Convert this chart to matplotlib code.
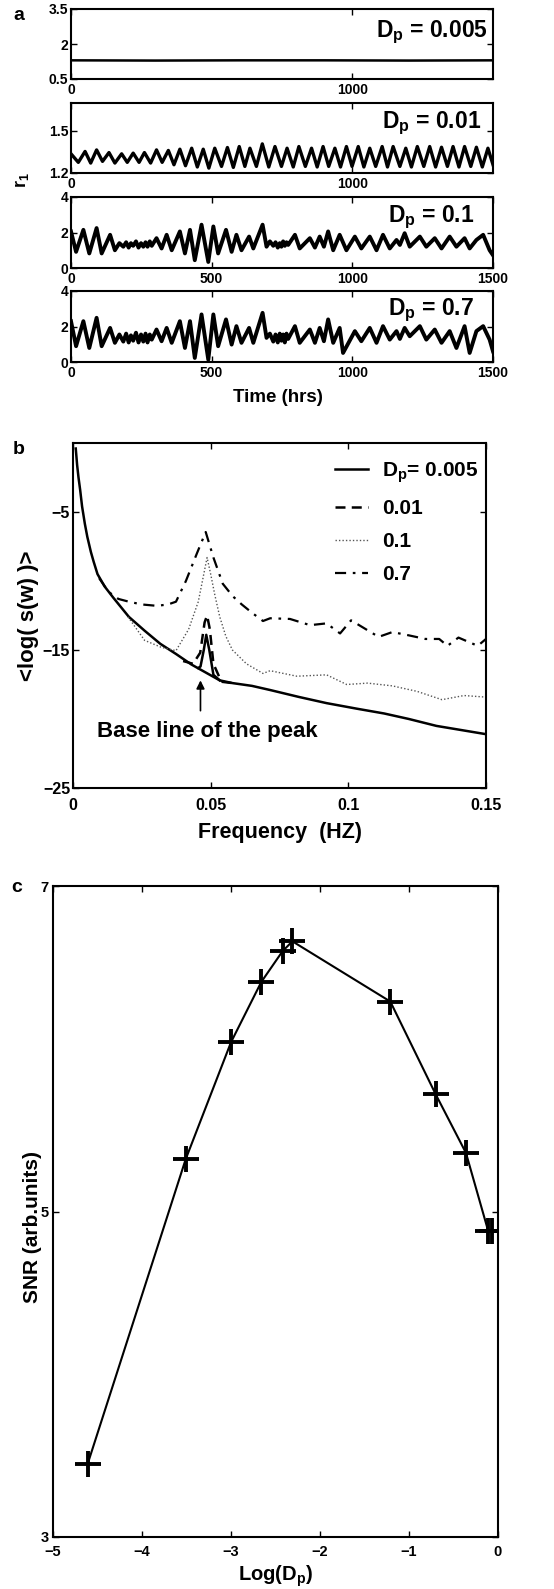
import matplotlib
matplotlib.use("Agg")
import matplotlib.pyplot as plt

plt.rcParams["font.family"] = ["Liberation Sans", "DejaVu Sans"]
plt.rcParams["font.weight"] = "bold"
plt.rcParams["axes.labelweight"] = "bold"
plt.rcParams["mathtext.fontset"] = "custom"
plt.rcParams["mathtext.rm"] = "Liberation Sans:bold"
plt.rcParams["mathtext.bf"] = "Liberation Sans:bold"
plt.rcParams["mathtext.it"] = "Liberation Sans:bold"
plt.rcParams["axes.linewidth"] = 1.5
plt.rcParams["xtick.direction"] = "in"
plt.rcParams["ytick.direction"] = "in"
plt.rcParams["xtick.major.width"] = 1.0
plt.rcParams["ytick.major.width"] = 1.0

# ---- panel a: r1 time series (extrema) ----
D005_T = [0, 300, 600, 900, 1200, 1500]
D005_R = [1.30, 1.29, 1.30, 1.30, 1.29, 1.30]

D01_T = [0, 26, 50, 70, 91, 112, 135, 156, 180, 200, 221, 242, 261, 283, 304, 324,
         346, 366, 387, 407, 429, 449, 470, 490, 511, 535, 556, 577, 598, 618, 636,
         659, 680, 703, 725, 748, 768, 790, 810, 833, 855, 875, 896, 916, 938, 958,
         979, 999, 1021, 1041, 1062, 1083, 1106, 1125, 1145, 1169, 1190, 1210, 1231,
         1254, 1275, 1296, 1317, 1338, 1358, 1379, 1399, 1421, 1441, 1462, 1482, 1500]
D01_R = [1.337, 1.276, 1.354, 1.271, 1.365, 1.283, 1.346, 1.271, 1.337, 1.276, 1.342,
         1.276, 1.346, 1.271, 1.365, 1.276, 1.361, 1.259, 1.370, 1.252, 1.377, 1.243,
         1.370, 1.235, 1.377, 1.247, 1.382, 1.240, 1.389, 1.247, 1.377, 1.247, 1.408,
         1.243, 1.389, 1.247, 1.377, 1.243, 1.389, 1.247, 1.377, 1.243, 1.389, 1.247,
         1.377, 1.243, 1.389, 1.247, 1.389, 1.243, 1.377, 1.247, 1.389, 1.243, 1.389,
         1.247, 1.377, 1.243, 1.389, 1.247, 1.389, 1.243, 1.384, 1.247, 1.389, 1.243,
         1.389, 1.247, 1.384, 1.243, 1.377, 1.259]

D1_T = [0, 18, 44, 65, 91, 109, 139, 156, 172, 186, 196, 205, 213, 221, 231, 240, 249,
        257, 265, 272, 280, 287, 304, 322, 340, 358, 387, 405, 423, 440, 464, 488, 506,
        523, 551, 571, 588, 606, 633, 648, 681, 695, 707, 719, 727, 735, 742, 748, 754,
        760, 766, 772, 796, 813, 849, 867, 884, 899, 914, 932, 955, 979, 1009, 1032,
        1062, 1086, 1109, 1133, 1157, 1169, 1186, 1204, 1240, 1263, 1293, 1317, 1346,
        1370, 1399, 1417, 1441, 1465, 1488, 1500]
D1_R = [2.06, 0.91, 2.15, 0.82, 2.25, 0.82, 1.87, 1.00, 1.40, 1.20, 1.45, 1.15, 1.40,
        1.25, 1.50, 1.15, 1.40, 1.20, 1.45, 1.20, 1.50, 1.25, 1.68, 1.10, 1.87, 1.00,
        2.06, 0.82, 2.15, 0.44, 2.44, 0.34, 2.34, 0.82, 2.15, 0.91, 1.87, 1.00, 1.77,
        1.10, 2.44, 1.20, 1.50, 1.25, 1.45, 1.15, 1.40, 1.20, 1.50, 1.25, 1.45, 1.30,
        1.87, 1.10, 1.68, 1.15, 1.77, 1.20, 2.06, 1.00, 1.87, 1.00, 1.77, 1.10, 1.77,
        1.00, 1.87, 1.10, 1.58, 1.30, 1.96, 1.20, 1.77, 1.20, 1.68, 1.10, 1.77, 1.20,
        1.68, 1.10, 1.58, 1.87, 1.00, 0.72]

D7_T = [0, 18, 44, 65, 91, 109, 139, 156, 172, 186, 196, 205, 213, 221, 231, 240, 249,
        257, 265, 272, 280, 287, 304, 322, 340, 358, 387, 405, 423, 440, 464, 488, 506,
        523, 551, 571, 588, 606, 633, 648, 681, 695, 707, 719, 727, 735, 742, 748, 754,
        760, 766, 772, 796, 813, 849, 867, 884, 899, 914, 932, 955, 967, 1009, 1032,
        1062, 1086, 1109, 1133, 1157, 1169, 1186, 1204, 1240, 1263, 1293, 1317, 1346,
        1370, 1399, 1417, 1441, 1465, 1488, 1500]
D7_R = [2.30, 0.89, 2.30, 0.79, 2.49, 0.89, 1.92, 1.08, 1.55, 1.15, 1.60, 1.10, 1.50,
        1.20, 1.65, 1.10, 1.55, 1.15, 1.60, 1.10, 1.55, 1.26, 1.83, 1.17, 1.92, 1.08,
        2.30, 0.79, 2.30, 0.23, 2.68, 0.13, 2.68, 0.89, 2.40, 0.98, 2.02, 1.08, 1.92,
        1.08, 2.77, 1.36, 1.60, 1.15, 1.55, 1.10, 1.60, 1.20, 1.55, 1.10, 1.60, 1.30,
        2.02, 1.08, 1.83, 1.08, 1.92, 1.17, 2.40, 1.08, 1.92, 0.51, 1.74, 1.17, 1.92,
        1.08, 2.02, 1.26, 1.74, 1.30, 1.92, 1.45, 2.02, 1.26, 1.83, 1.08, 1.74, 0.79,
        2.02, 0.51, 1.74, 2.02, 1.26, 0.60]

# ---- panel b: averaged log power spectra ----
F_005 = [0.001, 0.0015, 0.002, 0.0026, 0.0033, 0.0043, 0.0052, 0.0065, 0.0075, 0.0089,
         0.0115, 0.0146, 0.0203, 0.0260, 0.0317, 0.0375, 0.043, 0.0533, 0.058, 0.065,
         0.0716, 0.082, 0.0921, 0.103, 0.113, 0.122, 0.132, 0.141, 0.15]
S_005 = [-0.4, -1.6, -2.5, -3.4, -4.6, -5.85, -6.8, -7.9, -8.6, -9.5, -10.4, -11.2,
         -12.6, -13.6, -14.55, -15.3, -16.05, -17.2, -17.4, -17.6, -17.9, -18.4, -18.85,
         -19.25, -19.6, -20.0, -20.5, -20.8, -21.1]
F_005_PEAK = [0.0455, 0.0463, 0.0475, 0.0484, 0.0495, 0.051, 0.0533]
S_005_PEAK = [-16.3, -16.2, -15.0, -13.9, -15.0, -16.8, -17.2]

F_01 = [0.040, 0.0436, 0.0462, 0.0478, 0.0487, 0.0497, 0.051, 0.0539, 0.058]
S_01 = [-15.8, -16.0, -15.2, -13.0, -12.5, -13.5, -16.0, -17.3, -17.4]

F_1 = [0.020, 0.026, 0.032, 0.0374, 0.042, 0.0455, 0.0475, 0.0487, 0.050, 0.0515,
       0.0533, 0.0555, 0.0579, 0.063, 0.069, 0.0716, 0.0813, 0.0921, 0.0994, 0.107,
       0.116, 0.125, 0.134, 0.142, 0.149]
S_1 = [-12.6, -14.3, -14.8, -15.05, -13.5, -11.5, -9.5, -8.3, -9.5, -11.0, -12.6,
       -14.0, -15.0, -16.0, -16.7, -16.5, -16.9, -16.8, -17.5, -17.4, -17.6, -18.0,
       -18.6, -18.3, -18.4]

F_7 = [0.0095, 0.013, 0.0165, 0.0203, 0.025, 0.0305, 0.0345, 0.0374, 0.041, 0.045,
       0.0482, 0.051, 0.0544, 0.058, 0.0613, 0.065, 0.069, 0.0716, 0.0788, 0.0861,
       0.0921, 0.097, 0.101, 0.106, 0.111, 0.116, 0.122, 0.128, 0.133, 0.136, 0.14,
       0.147, 0.15]
S_7 = [-9.8, -10.8, -11.3, -11.5, -11.7, -11.8, -11.7, -11.5, -10.0, -8.0, -6.45,
       -8.3, -10.2, -11.1, -11.7, -12.3, -12.9, -12.7, -12.75, -13.2, -13.07, -13.8,
       -12.85, -13.45, -14.05, -13.7, -13.94, -14.2, -14.2, -14.7, -14.1, -14.7, -14.2]

# ---- panel c: SNR vs log(Dp) ----
LOG_DP = [-4.61, -3.51, -3.00, -2.66, -2.42, -2.31, -1.21, -0.70, -0.36, -0.11, -0.07]
SNR = [3.45, 5.32, 6.04, 6.41, 6.60, 6.66, 6.29, 5.72, 5.36, 4.88, 4.88]

W, H = 554, 1589
fig = plt.figure(figsize=(W / 100, H / 100), dpi=100)


def axes_px(left, top, right, bottom):
    return fig.add_axes([left / W, 1 - bottom / H, (right - left) / W, (bottom - top) / H])


def style(ax, size, xpad=2, ypad=2):
    ax.tick_params(top=True, right=True, length=4, labelsize=size)
    ax.tick_params(axis="x", pad=xpad)
    ax.tick_params(axis="y", pad=ypad)
    for lab in ax.get_xticklabels() + ax.get_yticklabels():
        lab.set_fontweight("bold")


# panel a
rows = [
    (9, 79, D005_T, D005_R, (0.5, 3.5), [0.5, 2, 3.5], ["0.5", "2", "3.5"], [0, 1000],
     r"$\mathbf{D_p}$ = 0.005", 0.987, 0.60, 1.8),
    (103, 173, D01_T, D01_R, (1.2, 1.7), [1.2, 1.5], ["1.2", "1.5"], [0, 1000],
     r"$\mathbf{D_p}$ = 0.01", 0.972, 0.64, 2.4),
    (197, 268, D1_T, D1_R, (0, 4), [0, 2, 4], ["0", "2", "4"], [0, 500, 1000, 1500],
     r"$\mathbf{D_p}$ = 0.1", 0.955, 0.65, 2.8),
    (291, 362, D7_T, D7_R, (0, 4), [0, 2, 4], ["0", "2", "4"], [0, 500, 1000, 1500],
     r"$\mathbf{D_p}$ = 0.7", 0.956, 0.66, 2.8),
]
for top, bottom, t, r, ylim, yt, ytl, xt, lbl, tx, ty, lw in rows:
    ax = axes_px(71, top, 493, bottom)
    ax.plot(t, r, color="black", lw=lw, solid_joinstyle="round")
    ax.set_xlim(0, 1500)
    ax.set_ylim(*ylim)
    ax.set_yticks(yt)
    ax.set_yticklabels(ytl)
    ax.set_xticks(xt)
    ax.set_xticklabels([str(v) for v in xt])
    style(ax, 10, xpad=3)
    ax.text(tx, ty, lbl, transform=ax.transAxes, ha="right", va="baseline",
            fontsize=16.5, fontweight="bold")

fig.text(19 / W, 1 - 16 / H, "a", fontsize=14, fontweight="bold", ha="center", va="center")
fig.text(22 / W, 1 - 180 / H, r"$\mathbf{r_1}$", fontsize=13, rotation=90,
         ha="center", va="center")
fig.text(278 / W, 1 - 397 / H, "Time (hrs)", fontsize=13.5, fontweight="bold",
         ha="center", va="center")

# panel b
axb = axes_px(73, 443, 486, 788)
axb.plot(F_005, S_005, color="black", lw=1.8, label=r"$\mathbf{D_p}$= 0.005")
axb.plot(F_005_PEAK, S_005_PEAK, color="black", lw=1.8)
axb.plot(F_01, S_01, color="black", lw=1.8, ls=(0, (4, 2.5)), label="0.01")
axb.plot(F_1, S_1, color="#555555", lw=1.0, ls=(0, (1, 1.5)), label="0.1")
axb.plot(F_7, S_7, color="black", lw=1.6, ls=(0, (5, 3, 1.2, 3)), label="0.7")
axb.set_xlim(0, 0.15)
axb.set_ylim(-25, 0)
axb.set_xticks([0, 0.05, 0.1, 0.15])
axb.set_xticklabels(["0", "0.05", "0.1", "0.15"])
axb.set_yticks([-25, -15, -5])
style(axb, 11.5, xpad=7)
axb.set_xlabel("Frequency  (HZ)", fontsize=15.5, labelpad=7)
axb.set_ylabel("<log( s(w) )>", fontsize=16, labelpad=3)
axb.annotate("", xy=(0.0463, -17.0), xytext=(0.0463, -19.6),
             arrowprops=dict(arrowstyle="-|>", color="black", lw=1.2, mutation_scale=12))
axb.text(0.0088, -20.9, "Base line of the peak", fontsize=16, fontweight="bold",
         ha="left", va="center")
leg = axb.legend(loc="upper left", bbox_to_anchor=(0.635, 0.95), frameon=False,
                 fontsize=15, handlelength=1.55, handletextpad=0.7, labelspacing=0.68,
                 borderpad=0, borderaxespad=0)
for txt in leg.get_texts():
    txt.set_fontweight("bold")
fig.text(19 / W, 1 - 449 / H, "b", fontsize=14, fontweight="bold", ha="center", va="center")

# panel c
axc = axes_px(53, 886, 498, 1537)
axc.plot(LOG_DP, SNR, color="black", lw=1.5, marker="+", markersize=19, mew=2.8)
axc.set_xlim(-5, 0)
axc.set_ylim(3, 7)
axc.set_xticks([-5, -4, -3, -2, -1, 0])
axc.set_yticks([3, 5, 7])
style(axc, 10.5, xpad=6, ypad=3)
axc.set_xlabel(r"Log($\mathbf{D_p}$)", fontsize=14.5, labelpad=3)
axc.set_ylabel("SNR (arb.units)", fontsize=15)
axc.yaxis.set_label_coords(-0.025, 0.476)
fig.text(17 / W, 1 - 888 / H, "c", fontsize=14, fontweight="bold", ha="center", va="center")

fig.savefig("out.png", dpi=100, facecolor="white")
